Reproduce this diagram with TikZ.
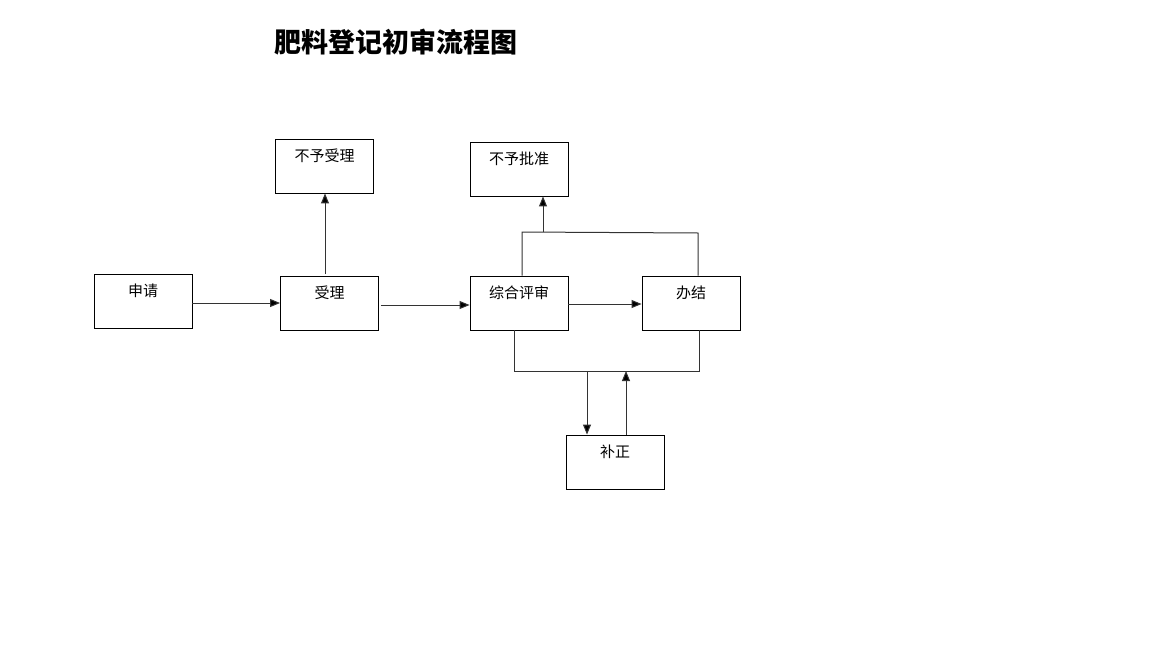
\documentclass[tikz,border=0pt]{standalone}
\usepackage{fontspec}
\newfontfamily\cjk{Noto Sans CJK SC}
\usetikzlibrary{arrows.meta}
\begin{document}
\begin{tikzpicture}[x=1pt,y=-1pt,
  box/.style={draw,line width=0.9pt,minimum width=98pt,minimum height=54pt,inner sep=0pt,
    label={[anchor=north,inner sep=0pt,yshift=-10.5pt,font=\cjk\fontsize{15}{15}\selectfont]north:#1}},
  conn/.style={line width=1pt,draw=black!80},
  arr/.style={conn,-{Triangle[length=10pt,width=8pt,fill=black]}}]
\useasboundingbox[fill=white] (0,0) rectangle (1152,648);
\node[font=\cjk\bfseries\fontsize{27}{27}\selectfont,inner sep=0pt] (title) at (396,42) {肥料登记初审流程图};
\node[box=申请] (sq) at (143,301) {};
\node[box=受理] (sl) at (329.5,303) {};
\node[box=不予受理] (bysl) at (324.5,166) {};
\node[box=不予批准] (bypz) at (519,169) {};
\node[box=综合评审] (zh) at (519,303) {};
\node[box=办结] (bj) at (691,303) {};
\node[box=补正] (bz) at (615,462) {};
\coordinate (tl) at (522,232);
\coordinate (tr) at (698,233);
\coordinate (tm) at (543,232);
\coordinate (bl) at (514,371);
\coordinate (br) at (699,371);
\coordinate (bd) at (587,371);
\coordinate (bu) at (626,371);
\draw[arr] (sq.east |- 0,303) -- (sl.west |- 0,303);
\draw[arr] ([xshift=2pt]sl.east |- 0,305) -- (zh.west |- 0,305);
\draw[arr] (325,274) -- (bysl.south -| 325,0);
\draw[arr] (zh.east |- 0,304) -- (bj.west |- 0,304);
\draw[conn] (zh.north -| tl) -- (tl) -- (tr) -- (bj.north -| tr);
\draw[arr] (tm) -- (bypz.south -| tm);
\draw[conn] (zh.south -| bl) -- (bl) -- (br) -- (bj.south -| br);
\draw[arr] (bd) -- (bz.north -| bd);
\draw[arr] (bz.north -| bu) -- (bu);
\end{tikzpicture}
\end{document}
